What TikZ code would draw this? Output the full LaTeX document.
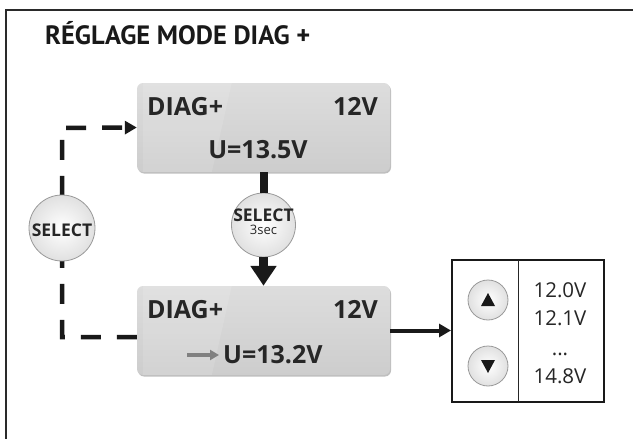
\documentclass[tikz,border=0pt]{standalone}
\usepackage{fontspec}
\setmainfont{Open Sans}
\newfontfamily\titlefont{PT Sans}
\usetikzlibrary{arrows.meta,shadows,calc}
\definecolor{boxtop}{HTML}{DDDDDD}
\definecolor{boxbot}{HTML}{CDCDCD}
\definecolor{frame}{HTML}{2A2A2A}
\begin{document}
\begin{tikzpicture}[x=1pt,y=-1pt,
  disp/.style={rounded corners=6pt, minimum width=253pt, minimum height=89pt,
    top color=boxtop, bottom color=boxbot, draw=none,
    drop shadow={shadow xshift=1pt, shadow yshift=-1.5pt, opacity=0.25, fill=black}},
  dtext/.style={inner sep=0pt, font=\bfseries\fontsize{25}{27}\selectfont, text=black!85},
  btn/.style={circle, shading=radial, inner color=white, outer color=black!12, draw=black!40, line width=0.8pt},
  seltext/.style={inner sep=0pt, font=\bfseries\fontsize{17.5}{18}\selectfont, text=black!85},
  valtext/.style={inner sep=0pt, font=\fontsize{20.5}{22}\selectfont, text=black!85},
  dashline/.style={line width=4.5pt, black!90, dash pattern=on 20pt off 16pt, line join=miter, -{Triangle[length=12pt,width=13pt]}},
  thickarrow/.style={line width=4pt, black!90, -{Triangle[length=12pt,width=13pt]}}
]
\useasboundingbox (0,0) rectangle (633,439);
\fill[white] (0,0) rectangle (633,439);
\draw[line width=2.6pt, frame, line join=miter] (6,439) -- (6,10) -- (633,10);

\node[anchor=base west, inner sep=0pt, font=\titlefont\bfseries\fontsize{26.5}{30}\selectfont, text=black!90] (title) at (45,45) {RÉGLAGE MODE DIAG +};

% displays
\node[disp] (top) at (263.5,127.5) {};
\node[disp] (bot) at (263.5,330.5) {};
\fill[white, opacity=0.12] ([xshift=6pt]top.north west) -- ([xshift=95pt]top.north west) -- ([xshift=75pt]top.south west) -- ([xshift=6pt]top.south west) -- cycle;
\fill[white, opacity=0.12] ([xshift=6pt]bot.north west) -- ([xshift=95pt]bot.north west) -- ([xshift=75pt]bot.south west) -- ([xshift=6pt]bot.south west) -- cycle;

\node[dtext, anchor=base west] (t1) at (147,115) {DIAG+};
\node[dtext, anchor=base east] (t2) at (378,115) {12V};
\node[dtext, anchor=base] (t3) at (258,158) {U=13.5V};

\node[dtext, anchor=base west] (b1) at (147,318) {DIAG+};
\node[dtext, anchor=base east] (b2) at (378,318) {12V};
\node[dtext, anchor=base west] (b3) at (223,363) {U=13.2V};
\coordinate (ga) at (187,355);
\draw[line width=3.5pt, black!50, -{Triangle[length=9pt,width=10pt]}] (ga) -- ([xshift=-4pt]b3.west |- ga);

% dashed loop
\coordinate (c1) at (62,337);
\coordinate (c2) at (62,128);
\draw[dashline] ([yshift=-6.5pt]bot.west) -- (c1) -- (c2) -- (top.west);

% circles
\node[btn, minimum size=64pt] (sel3) at (263.5,225) {};
\node[btn, minimum size=66pt] (sell) at (62,228) {};
\node[seltext, anchor=base] (s3a) at (263.5,221.5) {SELECT};
\node[inner sep=0pt, anchor=base, font=\fontsize{13}{14}\selectfont, text=black!85] (s3b) at (263.5,234.5) {3sec};
\node[seltext, anchor=base] (sl) at (62,236) {SELECT};

\draw[line width=8pt, black!90] (top.south) -- (sel3.north);
\draw[line width=9pt, black!90, -{Triangle[length=20pt,width=25pt]}] (sel3.south) -- (bot.north);

% right panel
\node[draw=black!90, line width=2pt, minimum width=152pt, minimum height=142pt, inner sep=0pt] (panel) at (528,331) {};
\draw[line width=1pt, black!85] (518,260) -- (518,402);
\draw[thickarrow] (bot.east) -- (panel.west |- bot.east);

\node[btn, minimum size=40pt] (up) at (488,300) {};
\node[btn, minimum size=40pt] (dn) at (488,366) {};
\fill[black!90] (481,306) -- (495,306) -- (488,293) -- cycle;
\fill[black!90] (481,360) -- (495,360) -- (488,373) -- cycle;

\node[valtext, anchor=base] (v1) at (560,297) {12.0V};
\node[valtext, anchor=base] (v2) at (560,325) {12.1V};
\node[valtext, anchor=base] (v3) at (560,355) {...};
\node[valtext, anchor=base] (v4) at (560,383) {14.8V};
\end{tikzpicture}
\end{document}
